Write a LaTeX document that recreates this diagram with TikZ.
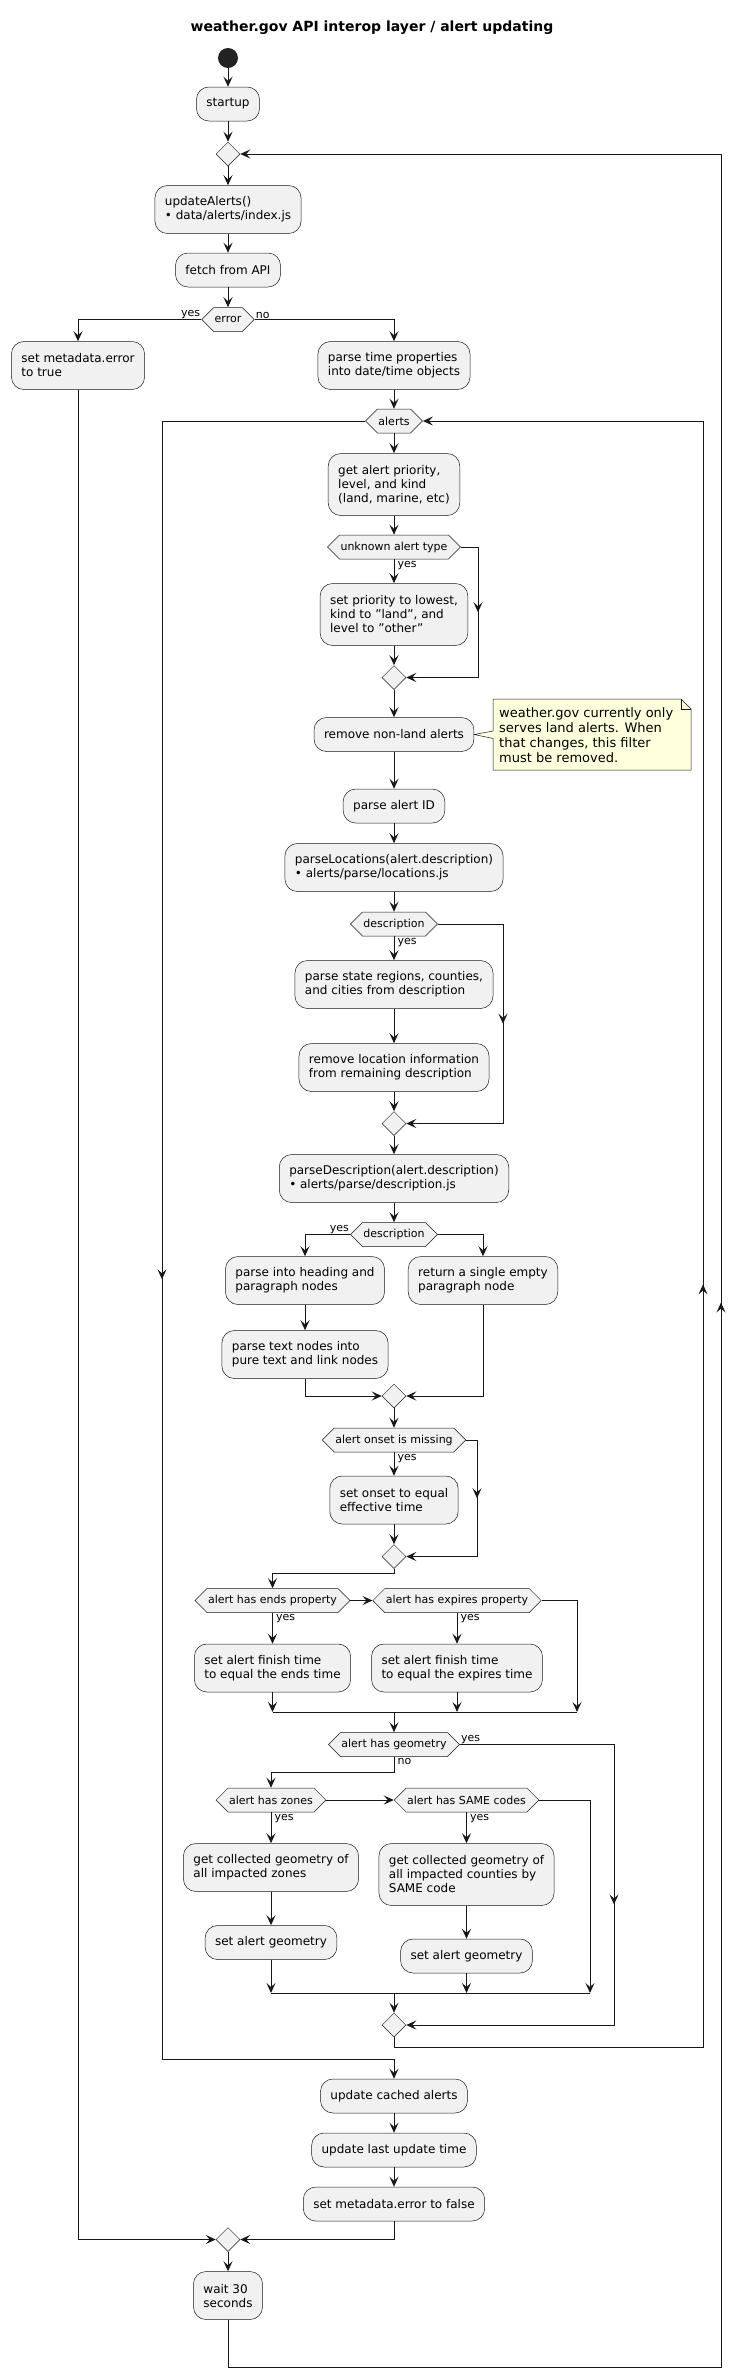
\documentclass[tikz,border=0pt]{standalone}
\usepackage{fontspec}
\setmainfont{DejaVu Sans}
\usetikzlibrary{arrows.meta,shapes.geometric,shapes.symbols,decorations.markings,calc}
\definecolor{boxfill}{HTML}{F1F1F1}
\definecolor{edge}{HTML}{181818}
\definecolor{notefill}{HTML}{FEFFDD}
\definecolor{startfill}{HTML}{222222}
\newcommand{\sq}{\char"22\relax}
\begin{document}
\begin{tikzpicture}[x=1pt,y=-1pt,
  act/.style={draw=edge, line width=0.5pt, fill=boxfill, rounded corners=12.5pt, font=\fontsize{12}{14}\selectfont, align=left, inner xsep=10pt, inner ysep=0pt, minimum height=34pt},
  acttwo/.style={act, minimum height=48pt},
  actthree/.style={act, minimum height=62pt},
  hex/.style={signal, signal to=east and west, signal pointer angle=90, draw=edge, line width=0.5pt, fill=boxfill, font=\fontsize{11}{13}\selectfont, minimum height=24pt, inner xsep=1pt, inner ysep=0pt},
  merge/.style={diamond, draw=edge, line width=0.5pt, fill=boxfill, minimum width=24pt, minimum height=24pt, inner sep=0pt},
  link/.style={draw=edge, line width=1pt},
  flow/.style={link, -{Stealth[length=10pt,width=9pt,inset=4pt]}},
  midarrow/.style={postaction={decorate}, decoration={markings, mark=at position #1 with {\arrow{Stealth[length=10pt,width=9pt,inset=4pt]}}}},
  midarrow/.default=0.5,
  lbl/.style={font=\fontsize{11}{13}\selectfont, inner sep=1pt},
  below lbl/.style={lbl, anchor=north west, xshift=2.5pt, yshift=-0.5pt},
]
\useasboundingbox (0,0) rectangle (745,2378);

% title
\node[font=\bfseries\fontsize{14}{17}\selectfont] (title) at (372,28) {weather.gov API interop layer / alert updating};

% nodes
\node[circle, fill=startfill, minimum size=20pt, inner sep=0pt] (start) at (228,58) {};
\node[act] (startup) at (228,104) {startup};
\node[merge] (m1) at (228,154) {};
\node[acttwo] (upd) at (228,209.5) {updateAlerts()\\• data/alerts/index.js};
\node[act] (fetch) at (228,270) {fetch from API};
\node[hex] (err) at (228,319.5) {error};
\node[acttwo] (smt) at (78,365.5) {set metadata.error\\to true};
\node[acttwo] (ptime) at (394,365.5) {parse time properties\\into date/time objects};
\node[hex] (alerts) at (394,421) {alerts};
\node[actthree] (prio) at (394,484.5) {get alert priority,\\level, and kind\\(land, marine, etc)};
\node[hex] (unk) at (394,547) {unknown alert type};
\node[actthree] (setprio) at (394,614.5) {set priority to lowest,\\kind to \sq land\sq, and\\level to \sq other\sq};
\node[merge] (m2) at (394,677.5) {};
\node[act] (nonland) at (394,734.5) {remove non-land alerts};
\node[act] (pid) at (394,806) {parse alert ID};
\node[acttwo] (ploc) at (394,867.5) {parseLocations(alert.description)\\• alerts/parse/locations.js};
\node[hex] (desc1) at (394,924) {description};
\node[acttwo] (pstate) at (394,984.5) {parse state regions, counties,\\and cities from description};
\node[acttwo] (rmloc) at (394,1067.5) {remove location information\\from remaining description};
\node[merge] (m3) at (394,1123.5) {};
\node[acttwo] (pdesc) at (394,1178.5) {parseDescription(alert.description)\\• alerts/parse/description.js};
\node[hex] (desc2) at (394,1234.5) {description};
\node[acttwo] (phead) at (305,1280.5) {parse into heading and\\paragraph nodes};
\node[acttwo] (pempty) at (483,1280.5) {return a single empty\\paragraph node};
\node[acttwo] (ptext) at (305,1354.5) {parse text nodes into\\pure text and link nodes};
\node[merge] (m4) at (394,1396) {};
\node[hex] (onset) at (394,1440) {alert onset is missing};
\node[acttwo] (setonset) at (394,1500) {set onset to equal\\effective time};
\node[merge] (m5) at (394,1556.5) {};
\node[hex] (endsh) at (272.5,1600.5) {alert has ends property};
\node[hex] (exph) at (457,1600.5) {alert has expires property};
\node[acttwo] (endsb) at (272.5,1668) {set alert finish time\\to equal the ends time};
\node[acttwo] (expb) at (457,1668) {set alert finish time\\to equal the expires time};
\node[hex] (geo) at (394,1744.5) {alert has geometry};
\node[hex] (zonesh) at (271,1800) {alert has zones};
\node[hex] (sameh) at (466.5,1800) {alert has SAME codes};
\node[acttwo] (zonesb) at (271,1867.5) {get collected geometry of\\all impacted zones};
\node[actthree] (sameb) at (466.5,1874.5) {get collected geometry of\\all impacted counties by\\SAME code};
\node[act] (sgl) at (271,1942.5) {set alert geometry};
\node[act] (sgr) at (466.5,1956) {set alert geometry};
\node[merge] (m6) at (394,2025) {};
\node[act] (ucache) at (394,2096) {update cached alerts};
\node[act] (ulast) at (394,2150) {update last update time};
\node[act] (smf) at (394,2204) {set metadata.error to false};
\node[merge] (m7) at (228,2239.5) {};
\node[acttwo] (wait) at (228,2295.5) {wait 30\\seconds};

% note
\draw[draw=edge, line width=0.5pt, fill=notefill] (493,699) -- (681,699) -- (691,709) -- (691,770) -- (493,770) -- (493,738.5) -- (nonland.east) -- (493,731) -- cycle;
\draw[draw=edge, line width=0.5pt] (681,699) -- (681,709) -- (691,709);
\node[font=\fontsize{13}{15}\selectfont, align=left, anchor=west, inner sep=0pt] (notetxt) at (499,735.5) {weather.gov currently only\\serves land alerts. When\\that changes, this filter\\must be removed.};

% helper coordinates
\coordinate (ub1) at (478,677.5);
\coordinate (ub2) at (503,1123.5);
\coordinate (ub3) at (477,1556.5);
\coordinate (j1) at (394,1712);
\coordinate (j1r) at (577,1712);
\coordinate (gy) at (614,2025);
\coordinate (j2) at (394,1993);
\coordinate (j2r) at (590,1993);
\coordinate (wr) at (703,2047);
\coordinate (wl) at (162,2059);
\coordinate (orr) at (721,2367);

% connectors
\draw[flow] (start) -- (startup.north);
\draw[flow] (startup.south) -- (m1.north);
\draw[flow] (m1.south) -- (upd.north);
\draw[flow] (upd.south) -- (fetch.north);
\draw[flow] (fetch.south) -- (err.north);
\draw[flow] (err.west) -| (smt.north);
\node[lbl, anchor=south east] at (err.west) {yes};
\draw[flow] (err.east) -| (ptime.north);
\node[lbl, anchor=south west] at (err.east) {no};
\draw[flow] (ptime.south) -- (alerts.north);
\draw[flow] (alerts.south) -- (prio.north);
\draw[flow] (prio.south) -- (unk.north);
\draw[flow] (unk.south) -- (setprio.north);
\node[below lbl] at (unk.south) {yes};
\draw[flow] (unk.east) -| (ub1) -- (m2.east);
\draw[link, midarrow] (unk.east -| ub1) -- (ub1);
\draw[flow] (setprio.south) -- (m2.north);
\draw[flow] (m2.south) -- (nonland.north);
\draw[flow] (nonland.south) -- (pid.north);
\draw[flow] (pid.south) -- (ploc.north);
\draw[flow] (ploc.south) -- (desc1.north);
\draw[flow] (desc1.south) -- (pstate.north);
\node[below lbl] at (desc1.south) {yes};
\draw[flow] (desc1.east) -| (ub2) -- (m3.east);
\draw[link, midarrow] (desc1.east -| ub2) -- (ub2);
\draw[flow] (pstate.south) -- (rmloc.north);
\draw[flow] (rmloc.south) -- (m3.north);
\draw[flow] (m3.south) -- (pdesc.north);
\draw[flow] (pdesc.south) -- (desc2.north);
\draw[flow] (desc2.west) -| (phead.north);
\node[lbl, anchor=south east] at (desc2.west) {yes};
\draw[flow] (desc2.east) -| (pempty.north);
\draw[flow] (phead.south) -- (ptext.north);
\draw[flow] (ptext.south) |- (m4.west);
\draw[flow] (pempty.south) |- (m4.east);
\draw[flow] (m4.south) -- (onset.north);
\draw[flow] (onset.south) -- (setonset.north);
\node[below lbl] at (onset.south) {yes};
\draw[flow] (onset.east) -| (ub3) -- (m5.east);
\draw[link, midarrow] (onset.east -| ub3) -- (ub3);
\draw[flow] (setonset.south) -- (m5.north);
\draw[flow] (m5.south) -- ++(0,5) -| (endsh.north);
\draw[flow] (endsh.east) -- (exph.west);
\draw[flow] (endsh.south) -- (endsb.north);
\node[below lbl] at (endsh.south) {yes};
\draw[flow] (exph.south) -- (expb.north);
\node[below lbl] at (exph.south) {yes};
\draw[flow] (exph.east) -| (j1r);
\draw[flow] (endsb.south) -- (endsb.south |- j1);
\draw[flow] (expb.south) -- (expb.south |- j1);
\draw[link] (endsb.south |- j1) -- (j1r);
\draw[flow] (j1) -- (geo.north);
\draw[flow] (geo.east) -| (gy) -- (m6.east);
\draw[link, midarrow=0.57] (geo.east -| gy) -- (gy);
\node[lbl, anchor=south west] at (geo.east) {yes};
\draw[flow] (geo.south) -- ++(0,16) -| (zonesh.north);
\node[below lbl] at (geo.south) {no};
\draw[flow] (zonesh.east) -- (sameh.west);
\draw[flow] (zonesh.south) -- (zonesb.north);
\node[below lbl] at (zonesh.south) {yes};
\draw[flow] (zonesb.south) -- (sgl.north);
\draw[flow] (sameh.south) -- (sameb.north);
\node[below lbl] at (sameh.south) {yes};
\draw[flow] (sameb.south) -- (sgr.north);
\draw[flow] (sameh.east) -| (j2r);
\draw[flow] (sgl.south) -- (sgl.south |- j2);
\draw[flow] (sgr.south) -- (sgr.south |- j2);
\draw[link] (sgl.south |- j2) -- (j2r);
\draw[flow] (j2) -- (m6.north);
\draw[flow] (m6.south) |- (wr) |- (alerts.east);
\draw[link, midarrow=0.469] (wr) -- (wr |- alerts.east);
\draw[flow] (alerts.west) -| (wl) -| (ucache.north);
\draw[link, midarrow=0.524] (alerts.west -| wl) -- (wl);
\draw[flow] (ucache.south) -- (ulast.north);
\draw[flow] (ulast.south) -- (smf.north);
\draw[flow] (smf.south) |- (m7.east);
\draw[flow] (smt.south) |- (m7.west);
\draw[flow] (m7.south) -- (wait.north);
\draw[flow] (wait.south) |- (orr) |- (m1.east);
\draw[link, midarrow=0.481] (orr) -- (orr |- m1.east);
\end{tikzpicture}
\end{document}
